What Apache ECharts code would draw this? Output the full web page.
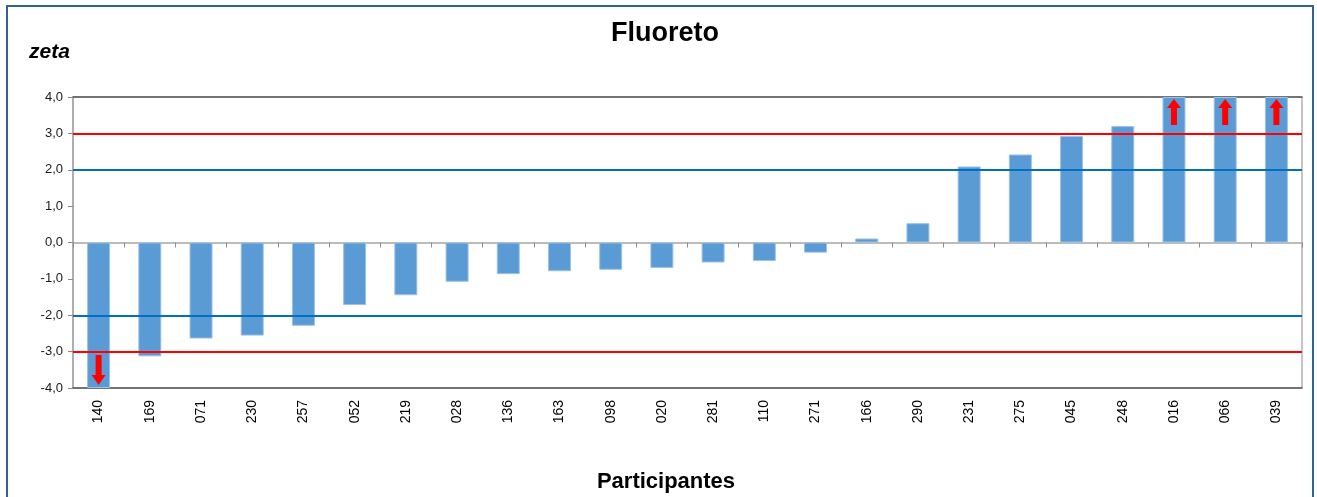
<!DOCTYPE html>
<html>
<head>
<meta charset="utf-8">
<script src="https://cdn.jsdelivr.net/npm/echarts@6/dist/echarts.min.js"></script>
<style>
  html, body { margin: 0; padding: 0; background: #fff; }
  #chart { width: 1317px; height: 497px; }
</style>
</head>
<body>
<div id="chart"></div>
<script>
// ---- data ----
const categories = ['140','169','071','230','257','052','219','028','136','163','098','020','281','110','271','166','290','231','275','045','248','016','066','039'];
// z-scores as plotted (values beyond ±4 are drawn capped at the axis limit, marked with arrows)
const zetaValues = [-4.0, -3.13, -2.64, -2.56, -2.29, -1.72, -1.45, -1.08, -0.87, -0.79, -0.75, -0.70, -0.55, -0.51, -0.28, 0.11, 0.53, 2.09, 2.42, 2.93, 3.20, 4.0, 4.0, 4.0];
const warningLimits = [-2, 2];
const actionLimits = [-3, 3];
const arrowsUp = ['016', '066', '039'];
const arrowsDown = ['140'];
const yMin = -4, yMax = 4, yStep = 1;
const titleText = 'Fluoreto';
const yTitle = 'zeta';
const xTitle = 'Participantes';

const upPath = 'path://M7,0 L14,9 L10,9 L10,26 L4,26 L4,9 L0,9 Z';
const downPath = 'path://M4,0 L10,0 L10,20 L14,20 L7,30 L0,20 L4,20 Z';

const chart = echarts.init(document.getElementById('chart'));

const markPoints = []
  .concat(arrowsUp.map(c => ({
    coord: [c, zetaValues[categories.indexOf(c)]],
    symbol: upPath, symbolSize: [14, 26], symbolOffset: [0, 15]
  })))
  .concat(arrowsDown.map(c => ({
    coord: [c, zetaValues[categories.indexOf(c)]],
    symbol: downPath, symbolSize: [14, 30], symbolOffset: [0, -18]
  })));

const fmt = v => v.toFixed(1).replace('.', ',');

chart.setOption({
  animation: false,
  backgroundColor: '#ffffff',
  textStyle: { fontFamily: '"Liberation Sans", Arial, sans-serif' },
  grid: {
    left: 73, right: 15, top: 97, bottom: 109,
    show: true, borderColor: '#8c8c8c', borderWidth: 1
  },
  graphic: [
    { type: 'rect', silent: true, z: 100,
      shape: { x: 7, y: 6, width: 1306, height: 560 },
      style: { fill: 'none', stroke: '#34609a', lineWidth: 2 } },
    { type: 'text', silent: true, z: 100,
      style: { text: titleText, x: 665, y: 34, textAlign: 'center', textVerticalAlign: 'middle',
               font: 'bold 27px "Liberation Sans", Arial, sans-serif', fill: '#000' } },
    { type: 'text', silent: true, z: 100,
      style: { text: yTitle, x: 29, y: 52, textAlign: 'left', textVerticalAlign: 'middle',
               font: 'italic bold 21px "Liberation Sans", Arial, sans-serif', fill: '#000' } },
    { type: 'text', silent: true, z: 100,
      style: { text: xTitle, x: 666, y: 482, textAlign: 'center', textVerticalAlign: 'middle',
               font: 'bold 22px "Liberation Sans", Arial, sans-serif', fill: '#000' } }
  ],
  xAxis: [
    { // bottom edge with labels
      type: 'category', data: categories, position: 'bottom',
      axisLine: { onZero: false, lineStyle: { color: '#595959', width: 1.5 } },
      axisTick: { show: false },
      axisLabel: { rotate: 90, fontSize: 14, color: '#000', margin: 12, interval: 0 },
      splitLine: { show: false }
    },
    { // top edge
      type: 'category', data: categories, position: 'top',
      axisLine: { onZero: false, lineStyle: { color: '#595959', width: 1.5 } },
      axisTick: { show: false }, axisLabel: { show: false }, splitLine: { show: false }
    },
    { // zero line with ticks
      type: 'category', data: categories, position: 'bottom',
      axisLine: { onZero: true, lineStyle: { color: '#a6a6a6', width: 1.5 } },
      axisTick: { show: true, length: 5, lineStyle: { color: '#8c8c8c' } },
      axisLabel: { show: false }, splitLine: { show: false }
    }
  ],
  yAxis: {
    type: 'value', min: yMin, max: yMax, interval: yStep,
    axisLine: { show: true, lineStyle: { color: '#a6a6a6', width: 1.5 } },
    axisTick: { show: true, length: 5, lineStyle: { color: '#8c8c8c' } },
    axisLabel: { formatter: fmt, fontSize: 13, color: '#1a1a1a', margin: 10 },
    splitLine: { show: false }
  },
  series: [{
    type: 'bar',
    data: zetaValues,
    xAxisIndex: 0,
    barWidth: 23,
    itemStyle: { color: '#5b9bd5', borderColor: '#9cc2e5', borderWidth: 1 },
    markLine: {
      silent: true, symbol: 'none', label: { show: false },
      data: []
        .concat(warningLimits.map(v => ({ yAxis: v, lineStyle: { color: '#0070c0', width: 2, type: 'solid' } })))
        .concat(actionLimits.map(v => ({ yAxis: v, lineStyle: { color: '#ff0000', width: 2, type: 'solid' } })))
    },
    markPoint: {
      silent: true, label: { show: false },
      itemStyle: { color: '#ff0000' },
      data: markPoints
    }
  }]
});
</script>
</body>
</html>
